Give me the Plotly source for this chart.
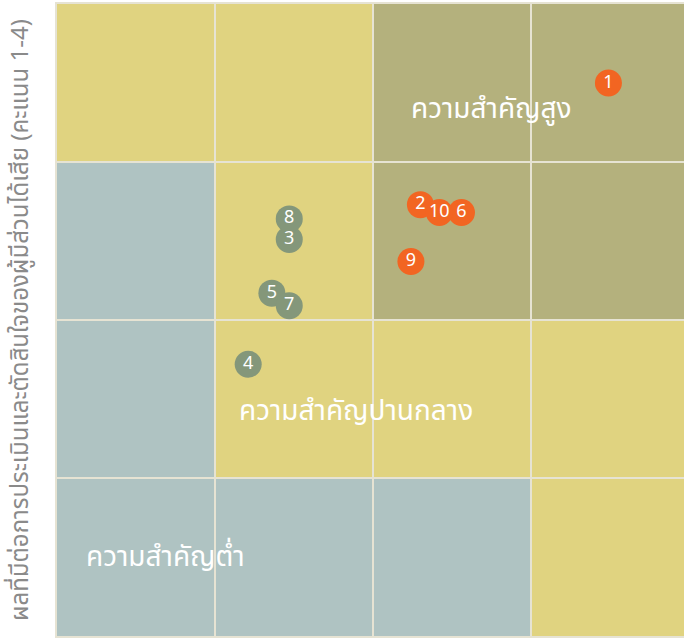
import plotly.graph_objects as go

# ---- data ----
labels = ["1", "2", "3", "4", "5", "6", "7", "8", "9", "10"]
x_vals = [3.49, 2.30, 1.47, 1.21, 1.36, 2.56, 1.47, 1.47, 2.24, 2.42]
y_vals = [3.50, 2.73, 2.51, 1.72, 2.17, 2.68, 2.09, 2.64, 2.37, 2.68]
groups = ["high", "high", "mid", "mid", "mid", "high", "mid", "mid", "high", "high"]

# zone of each 1x1 cell, rows listed bottom (y 0-1) to top (y 3-4), columns x 0-1 .. 3-4
cell_zones = [
    ["low", "low", "low", "mid"],
    ["low", "mid", "mid", "mid"],
    ["low", "mid", "high", "high"],
    ["mid", "mid", "high", "high"],
]
zone_labels = ["ความสำคัญสูง", "ความสำคัญปานกลาง", "ความสำคัญต่ำ"]
zone_label_x = [2.23, 1.14, 0.17]
zone_label_y = [3.33, 1.42, 0.50]
y_title = "ผลที่มีต่อการประเมินและตัดสินใจของผู้มีส่วนได้เสีย (คะแนน 1-4)"

# ---- styles ----
zone_colors = {"low": "#afc3c2", "mid": "#e0d380", "high": "#b4b17d"}
marker_colors = {"high": "#f26522", "mid": "#84977a"}
font_family = "Noto Sans Thai, Noto Sans, sans-serif"

fig = go.Figure()

shapes = []
for r, row in enumerate(cell_zones):
    for c, z in enumerate(row):
        shapes.append(dict(type="rect", xref="x", yref="y", x0=c, x1=c + 1, y0=r, y1=r + 1,
                           fillcolor=zone_colors[z], line=dict(width=0), layer="below"))

fig.add_trace(go.Scatter(
    x=x_vals, y=y_vals, mode="markers+text", text=labels,
    marker=dict(size=27, color=[marker_colors[g] for g in groups], line=dict(width=0)),
    textfont=dict(color="white", size=18, family=font_family),
    textposition="middle center", hoverinfo="skip", showlegend=False,
))

annotations = []
for t, ax, ay in zip(zone_labels, zone_label_x, zone_label_y):
    annotations.append(dict(x=ax, y=ay, xref="x", yref="y", text=t, showarrow=False,
                            xanchor="left", yanchor="middle",
                            font=dict(color="white", size=28, family=font_family)))
annotations.append(dict(x=0, y=0.5, xref="paper", yref="paper", text=y_title, showarrow=False,
                        textangle=-90, xanchor="center", yanchor="middle", xshift=-36,
                        font=dict(color="#8a8a8a", size=24, family=font_family)))

fig.update_layout(
    width=691, height=638,
    margin=dict(l=57, r=0, t=4, b=2),
    paper_bgcolor="white", plot_bgcolor="white",
    shapes=shapes, annotations=annotations,
    xaxis=dict(range=[0, 4], dtick=1, showgrid=True, gridcolor="#e6e3d3", gridwidth=2,
               showticklabels=False, zeroline=False, showline=True, linecolor="#e6e3d3",
               linewidth=2, mirror=True, fixedrange=True),
    yaxis=dict(range=[0, 4], dtick=1, showgrid=True, gridcolor="#e6e3d3", gridwidth=2,
               showticklabels=False, zeroline=False, showline=True, linecolor="#e6e3d3",
               linewidth=2, mirror=True, fixedrange=True),
    font=dict(family=font_family),
)

fig.write_html("out.html", config={"displayModeBar": False},
               post_script="document.body.style.margin='0px';document.body.style.overflow='hidden';")
